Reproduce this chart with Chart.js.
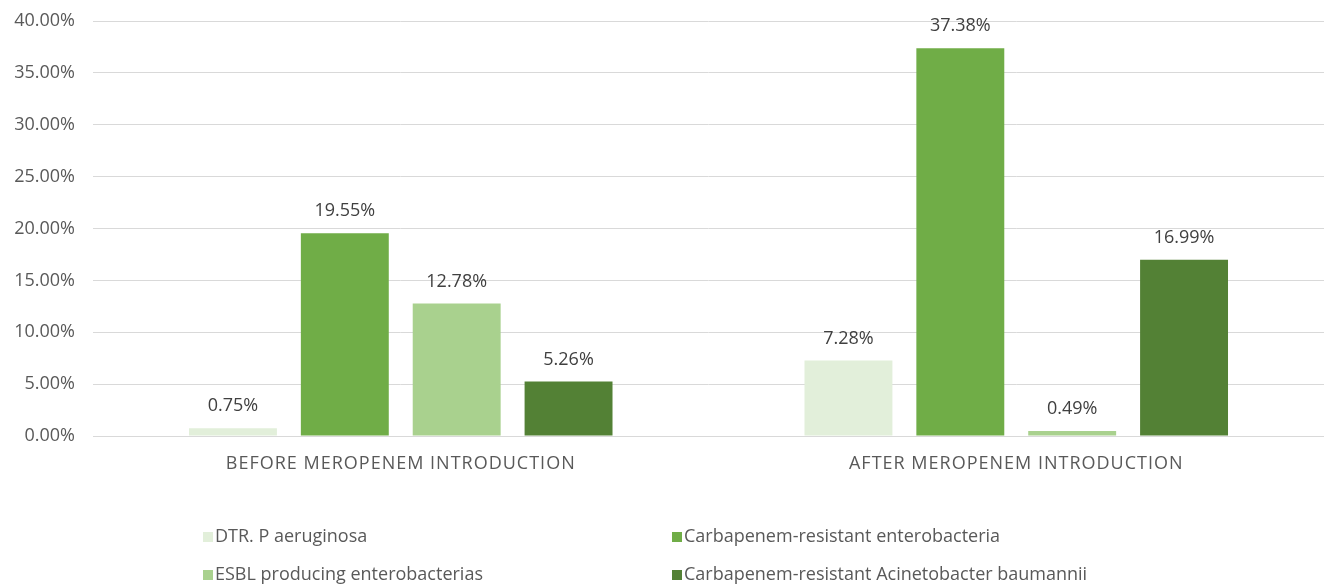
<!DOCTYPE html>
<html>
<head>
<meta charset="utf-8">
<script src="https://cdn.jsdelivr.net/npm/chart.js@4/dist/chart.umd.min.js"></script>
<style>
  html, body { margin: 0; padding: 0; background: #fff; }
  #wrap { width: 1324px; height: 588px; position: relative; }
</style>
</head>
<body>
<div id="wrap"><canvas id="resChart"></canvas></div>
<script>
var categories = ['BEFORE MEROPENEM INTRODUCTION', 'AFTER MEROPENEM INTRODUCTION'];
var seriesNames = ['DTR. P aeruginosa', 'Carbapenem-resistant enterobacteria',
                   'ESBL producing enterobacterias', 'Carbapenem-resistant Acinetobacter baumannii'];
var dtrPa = [0.75, 7.28];
var creValues = [19.55, 37.38];
var esblValues = [12.78, 0.49];
var crabValues = [5.26, 16.99];
var colors = ['#E2EFDA', '#70AD47', '#A9D18E', '#538135'];

var FONT = '"Open Sans", sans-serif';
var textColor = '#595959';

// value labels above each bar
var barLabels = {
    id: 'barLabels',
    afterDatasetsDraw: function(chart) {
        var ctx = chart.ctx;
        ctx.save();
        ctx.font = '18px ' + FONT;
        ctx.fillStyle = '#404040';
        ctx.textAlign = 'center';
        ctx.textBaseline = 'middle';
        chart.data.datasets.forEach(function(ds, i) {
            chart.getDatasetMeta(i).data.forEach(function(bar, j) {
                ctx.fillText(ds.data[j].toFixed(2) + '%', bar.x, bar.y - 22);
            });
        });
        ctx.restore();
    }
};

// two column legend under the chart
var gridLegend = {
    id: 'gridLegend',
    afterDraw: function(chart) {
        var ctx = chart.ctx;
        var colX = [203, 672];
        var rowY = [537, 575];
        ctx.save();
        ctx.font = '18px ' + FONT;
        ctx.textBaseline = 'middle';
        chart.data.datasets.forEach(function(ds, i) {
            var x = colX[i % 2], y = rowY[Math.floor(i / 2)];
            ctx.fillStyle = ds.backgroundColor;
            ctx.fillRect(x, y - 5, 10, 10);
            ctx.fillStyle = textColor;
            ctx.fillText(ds.label, x + 12, y);
        });
        ctx.restore();
    }
};

// Excel-like spaced category labels
var xLabels = {
    id: 'xLabels',
    afterDraw: function(chart) {
        var ctx = chart.ctx;
        var xs = chart.scales.x;
        ctx.save();
        ctx.font = '18px ' + FONT;
        ctx.fillStyle = textColor;
        ctx.textAlign = 'center';
        ctx.textBaseline = 'middle';
        ctx.letterSpacing = '1px';
        chart.data.labels.forEach(function(lbl, i) {
            ctx.fillText(lbl, xs.getPixelForTick(i), chart.chartArea.bottom + 28);
        });
        ctx.restore();
    }
};

var datasets = [dtrPa, creValues, esblValues, crabValues].map(function(vals, i) {
    return {
        label: seriesNames[i],
        data: vals,
        backgroundColor: colors[i],
        borderWidth: 0,
        categoryPercentage: 0.727,
        barPercentage: 0.786
    };
});

var ctx = document.getElementById('resChart').getContext('2d');
var resChart = new Chart(ctx, {
    type: 'bar',
    data: { labels: categories, datasets: datasets },
    options: {
        responsive: true,
        maintainAspectRatio: false,
        animation: false,
        layout: { padding: { top: 21, right: 0, left: 0, bottom: 112 } },
        plugins: {
            legend: { display: false },
            tooltip: { enabled: false }
        },
        scales: {
            x: {
                grid: { display: false },
                border: { color: '#D9D9D9', width: 1 },
                afterFit: function(scale) {
                    scale.height = 40;
                    scale.paddingLeft = 0;
                    scale.paddingRight = 0;
                },
                ticks: { display: false }
            },
            y: {
                min: 0,
                max: 40,
                afterFit: function(scale) {
                    scale.width = 93;
                    scale.paddingTop = 0;
                },
                grid: { color: '#D9D9D9', lineWidth: 1, drawTicks: false },
                border: { display: false },
                ticks: {
                    stepSize: 5,
                    color: textColor,
                    padding: 18,
                    font: { family: FONT, size: 18 },
                    callback: function(v) { return v.toFixed(2) + '%'; }
                }
            }
        }
    },
    plugins: [barLabels, gridLegend, xLabels]
});
</script>
</body>
</html>
